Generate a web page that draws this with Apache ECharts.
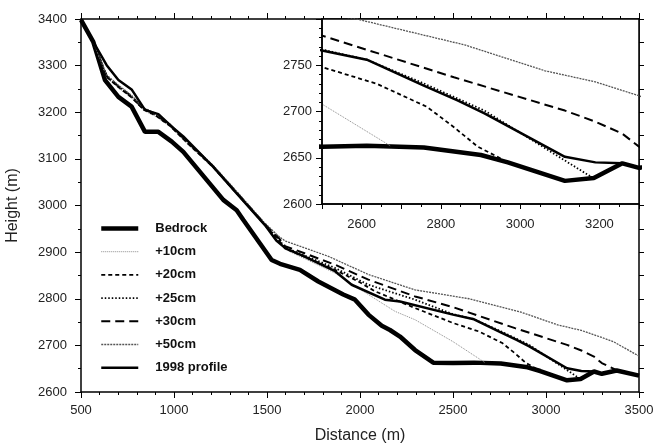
<!DOCTYPE html>
<html>
<head>
<meta charset="utf-8">
<script src="https://cdn.jsdelivr.net/npm/echarts@6/dist/echarts.min.js"></script>
<style>
html,body{margin:0;padding:0;background:#fff;}
#chart{width:653px;height:443px;}
</style>
</head>
<body>
<div id="chart"></div>
<script>
// ---- data (distance in m, height in m) ----
var bedrockX = [500,566,629,701,772,844,916,988,1050,1265,1337,1373,1525,1570,1677,1776,1910,1973,2045,2117,2161,2215,2296,2394,2500,2613,2757,2901,2969,3113,3186,3258,3300,3380,3500];
var bedrockY = [3398,3351,3269,3233,3212,3158,3158,3137,3115,3012,2990,2969,2883,2875,2862,2837,2809,2798,2766,2742,2733,2719,2690,2663,2662,2663,2661,2653,2645,2625,2628,2644,2639,2646,2635];

var p10X = [500,566,638,701,772,835,898,978,1077,1211,1337,1489,1560,1597,1866,2045,2188,2296,2500,2672];
var p10Y = [3398,3351,3274,3252,3230,3204,3192,3169,3130,3080,3024,2956,2925,2906,2855,2809,2773,2755,2708,2663];

var p20X = [500,566,638,701,772,835,898,978,1077,1211,1337,1489,1560,1597,1866,1991,2081,2296,2500,2638,2765,2833,2893,2952];
var p20Y = [3398,3351,3276,3254,3232,3206,3194,3171,3132,3082,3026,2958,2927,2908,2862,2837,2816,2780,2748,2730,2705,2683,2662,2649];

var p25X = [500,566,638,701,772,835,898,978,1077,1211,1337,1489,1560,1597,1866,2045,2296,2500,2613,2748,2910,3113,3177];
var p25Y = [3398,3351,3277,3255,3233,3207,3195,3172,3133,3083,3027,2959,2929,2910,2866,2830,2798,2767,2756,2732,2701,2647,2630];

var p30X = [500,566,638,701,772,835,898,978,1077,1211,1337,1489,1560,1597,1866,2045,2296,2500,2833,3113,3190,3258,3300,3380];
var p30Y = [3398,3351,3278,3256,3234,3208,3196,3173,3134,3084,3028,2960,2932,2913,2873,2841,2805,2782,2737,2701,2689,2676,2662,2647];

var p50X = [500,566,638,701,772,835,898,978,1077,1211,1337,1489,1560,1597,1830,2045,2296,2587,2860,3063,3190,3300,3362,3500];
var p50Y = [3398,3351,3280,3258,3236,3210,3198,3175,3136,3086,3030,2962,2935,2924,2891,2852,2819,2800,2772,2744,2732,2717,2708,2677];

var prof98X = [500,566,638,701,772,844,916,988,1050,1211,1337,1489,1550,1600,1700,1866,1955,2134,2215,2500,2613,2757,2842,2910,3113,3190,3258,3300,3380,3500];
var prof98Y = [3398,3351,3301,3269,3249,3205,3196,3169,3148,3083,3026,2958,2925,2908,2891,2859,2830,2798,2794,2766,2756,2728,2712,2698,2651,2645,2644,2639,2646,2635];

var seriesNames = ['Bedrock','+10cm','+20cm','+25cm','+30cm','+50cm','1998 profile'];
var mainXTicks = [500,1000,1500,2000,2500,3000,3500];
var mainYTicks = [2600,2700,2800,2900,3000,3100,3200,3300,3400];
var insetXLabels = [2600,2800,3000,3200];
var insetYTicks = [2600,2650,2700,2750];

// ---- build ----
function zip(xs, ys){ var o=[]; for(var i=0;i<xs.length;i++) o.push([xs[i], ys[i]]); return o; }
var dataSets = [zip(bedrockX,bedrockY), zip(p10X,p10Y), zip(p20X,p20Y), zip(p25X,p25Y), zip(p30X,p30Y), zip(p50X,p50Y), zip(prof98X,prof98Y)];
var styles = [
  {color:'#000', width:4.5, type:'solid'},
  {color:'#8a8a8a', width:1, type:[1,1]},
  {color:'#000', width:1.8, type:[4,3]},
  {color:'#000', width:1.8, type:[1.5,2]},
  {color:'#000', width:2, type:[9,5]},
  {color:'#555', width:1.3, type:[2,1]},
  {color:'#000', width:2.5, type:'solid'}
];

var FONT = 'Liberation Sans';
var series = [];
for (var g=0; g<2; g++) {
  for (var i=0;i<seriesNames.length;i++) {
    series.push({
      type:'line', name:seriesNames[i], data:dataSets[i],
      xAxisIndex: g===0?0:2, yAxisIndex: g===0?0:2,
      symbol:'none', silent:true, animation:false,
      z: g===0 ? 2 : 12,
      lineStyle:{color:styles[i].color, width:styles[i].width, type:styles[i].type},
      itemStyle:{color:styles[i].color}
    });
  }
}

function plain(v){ return String(v); }
var lbl = {fontFamily:FONT, fontSize:13, color:'#222'};
var line = {show:true, lineStyle:{color:'#000', width:1.5}};

var option = {
  backgroundColor:'#fff',
  animation:false,
  grid:[
    {left:81, top:19, width:558, height:373, show:false, containLabel:false, outerBoundsMode:'none'},
    {left:322, top:19, width:317, height:185, show:true, backgroundColor:'#fff', borderColor:'#000', borderWidth:1.5, z:10, containLabel:false, outerBoundsMode:'none'}
  ],
  legend:{
    orient:'vertical', left:99, top:222, padding:0,
    itemWidth:37, itemHeight:14, itemGap:10.2,
    data:seriesNames,
    selectedMode:false,
    itemStyle:{opacity:0},
    lineStyle:{width:'inherit', type:'inherit', color:'inherit'},
    textStyle:{fontFamily:FONT, fontSize:13, fontWeight:'bold', color:'#111', padding:[0,0,0,12]}
  },
  xAxis:[
    {type:'value', gridIndex:0, position:'bottom', min:mainXTicks[0], max:mainXTicks[mainXTicks.length-1], interval:500,
     axisLine:line, splitLine:{show:false},
     axisTick:{show:true, length:6, lineStyle:{color:'#000'}},
     minorTick:{show:true, splitNumber:5, length:3, lineStyle:{color:'#000'}},
     axisLabel:Object.assign({margin:12, formatter:plain}, lbl),
     name:'Distance (m)', nameLocation:'middle', nameGap:36,
     nameTextStyle:{fontFamily:FONT, fontSize:16, color:'#222'}},
    {type:'value', gridIndex:0, position:'top', min:500, max:3500, interval:500,
     axisLine:line, splitLine:{show:false},
     axisTick:{show:true, length:6, lineStyle:{color:'#000'}},
     minorTick:{show:true, splitNumber:5, length:3, lineStyle:{color:'#000'}},
     axisLabel:{show:false}},
    {type:'value', gridIndex:1, position:'bottom', min:2500, max:3300, interval:100, z:13,
     axisLine:line, splitLine:{show:false},
     axisTick:{show:true, length:5, lineStyle:{color:'#000'}},
     minorTick:{show:true, splitNumber:2, length:3, lineStyle:{color:'#000'}},
     axisLabel:Object.assign({margin:14, formatter:function(v){ return insetXLabels.indexOf(v)>=0 ? String(v) : ''; }}, lbl)}
  ],
  yAxis:[
    {type:'value', gridIndex:0, position:'left', min:mainYTicks[0], max:mainYTicks[mainYTicks.length-1], interval:100,
     axisLine:line, splitLine:{show:false},
     axisTick:{show:true, length:6, lineStyle:{color:'#000'}},
     minorTick:{show:true, splitNumber:2, length:3, lineStyle:{color:'#000'}},
     axisLabel:Object.assign({margin:14, formatter:plain}, lbl),
     name:'Height (m)', nameLocation:'middle', nameGap:60,
     nameTextStyle:{fontFamily:FONT, fontSize:16, color:'#222'}},
    {type:'value', gridIndex:0, position:'right', min:2600, max:3400, interval:100,
     axisLine:line, splitLine:{show:false},
     axisTick:{show:true, length:5, lineStyle:{color:'#000'}},
     minorTick:{show:true, splitNumber:2, length:5, lineStyle:{color:'#000'}},
     axisLabel:{show:false}},
    {type:'value', gridIndex:1, position:'left', min:2600, max:2800, interval:50, z:13,
     axisLine:line, splitLine:{show:false},
     axisTick:{show:true, length:6, lineStyle:{color:'#000'}},
     minorTick:{show:true, splitNumber:5, length:3, lineStyle:{color:'#000'}},
     axisLabel:Object.assign({margin:10, showMaxLabel:false, formatter:plain}, lbl)}
  ],
  series:series
};

var chart = echarts.init(document.getElementById('chart'), null, {renderer:'canvas'});
chart.setOption(option);
</script>
</body>
</html>
